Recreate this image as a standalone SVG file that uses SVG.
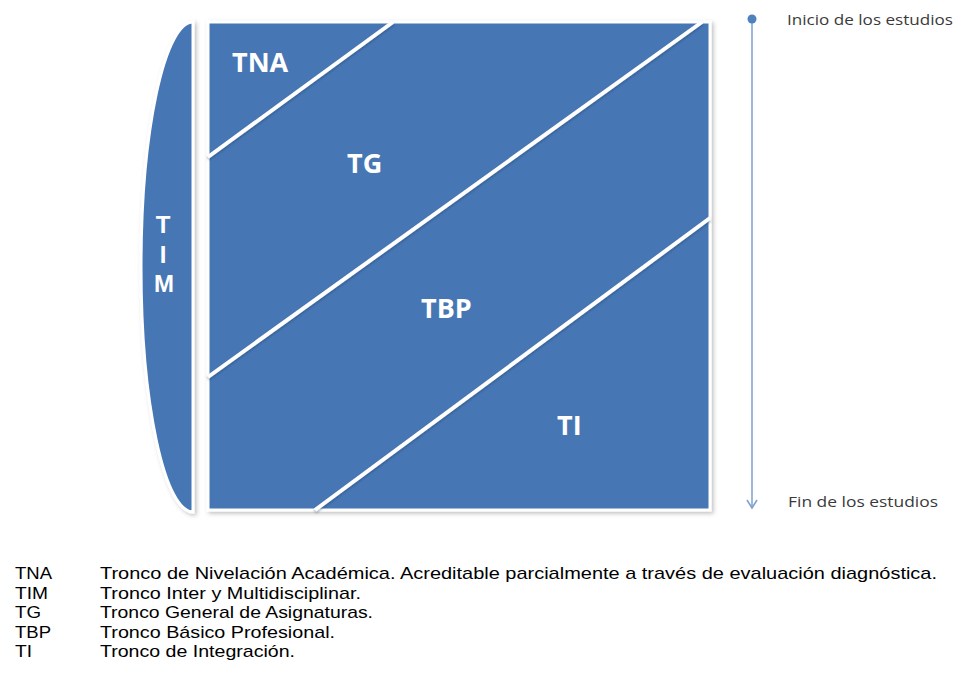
<svg xmlns="http://www.w3.org/2000/svg" width="961" height="683" viewBox="0 0 961 683">
  <defs>
    <filter id="sh" x="-10%" y="-10%" width="125%" height="125%">
      <feDropShadow dx="2" dy="2" stdDeviation="2" flood-color="#000" flood-opacity="0.25"/>
    </filter>
    <filter id="lsh" x="-10%" y="-10%" width="120%" height="120%">
      <feDropShadow dx="0" dy="1.5" stdDeviation="1" flood-color="#1c3a66" flood-opacity="0.45"/>
    </filter>
    <style>
      .blk { fill: #4676b4; stroke: #ffffff; stroke-width: 3; }
      .div { stroke: #ffffff; stroke-width: 4; fill: none; stroke-linecap: butt; }
      .lbl { font-family: "Open Sans", "DejaVu Sans", sans-serif; font-weight: bold; fill: #ffffff; }
      .tim { font-family: "Liberation Sans", Arial, sans-serif; font-weight: bold; font-size: 24px; fill: #ffffff; }
      .side { font-family: "Open Sans", "DejaVu Sans", sans-serif; font-size: 14px; fill: #3a3a3a; }
      .leg { font-family: "Liberation Sans", Arial, sans-serif; font-size: 17px; fill: #000000; }
      .tl { stroke: #7f9fcc; stroke-width: 1.5; fill: none; }
    </style>
  </defs>
  <rect width="961" height="683" fill="#ffffff"/>

  <g id="TIM">
    <path class="blk" filter="url(#sh)" d="M193,22 A52,245 0 0 0 193,512 Z"/>
    <text class="tim" text-anchor="middle" x="163" y="233">T</text>
    <text class="tim" text-anchor="middle" x="163" y="263">I</text>
    <text class="tim" text-anchor="middle" x="164" y="292">M</text>
  </g>

  <g id="square">
    <rect class="blk" filter="url(#sh)" x="208" y="22" width="502" height="488"/>
  </g>

  <g id="connectors" filter="url(#lsh)">
    <line class="div" x1="208" y1="157" x2="393" y2="22"/>
    <line class="div" x1="208" y1="377" x2="702" y2="22"/>
    <line class="div" x1="315" y1="510" x2="710" y2="218"/>
  </g>

  <g id="TNA"><text class="lbl" font-size="27" x="232" y="72">TNA</text></g>
  <g id="TG"><text class="lbl" font-size="27" x="347" y="173">TG</text></g>
  <g id="TBP"><text class="lbl" font-size="27" x="421" y="318">TBP</text></g>
  <g id="TI"><text class="lbl" font-size="27" x="557" y="435">TI</text></g>

  <g id="timeline">
    <line class="tl" x1="752" y1="20" x2="752" y2="508"/>
    <polyline class="tl" points="747,500 752,508 757,500"/>
    <circle cx="752" cy="19" r="4.5" fill="#4f81bd"/>
    <text class="side" x="787" y="25" textLength="166" lengthAdjust="spacingAndGlyphs">Inicio de los estudios</text>
    <text class="side" x="788" y="507" textLength="150" lengthAdjust="spacingAndGlyphs">Fin de los estudios</text>
  </g>

  <g id="legend">
    <text class="leg" x="15" y="579" textLength="37" lengthAdjust="spacingAndGlyphs">TNA</text>
    <text class="leg" x="100" y="579" textLength="837" lengthAdjust="spacingAndGlyphs">Tronco de Nivelación Académica. Acreditable parcialmente a través de evaluación diagnóstica.</text>
    <text class="leg" x="15" y="598.5" textLength="33" lengthAdjust="spacingAndGlyphs">TIM</text>
    <text class="leg" x="100" y="598.5" textLength="261" lengthAdjust="spacingAndGlyphs">Tronco Inter y Multidisciplinar.</text>
    <text class="leg" x="15" y="618" textLength="26" lengthAdjust="spacingAndGlyphs">TG</text>
    <text class="leg" x="100" y="618" textLength="273" lengthAdjust="spacingAndGlyphs">Tronco General de Asignaturas.</text>
    <text class="leg" x="15" y="637.5" textLength="36" lengthAdjust="spacingAndGlyphs">TBP</text>
    <text class="leg" x="100" y="637.5" textLength="235" lengthAdjust="spacingAndGlyphs">Tronco Básico Profesional.</text>
    <text class="leg" x="15" y="657" textLength="17" lengthAdjust="spacingAndGlyphs">TI</text>
    <text class="leg" x="100" y="657" textLength="195" lengthAdjust="spacingAndGlyphs">Tronco de Integración.</text>
  </g>
</svg>
